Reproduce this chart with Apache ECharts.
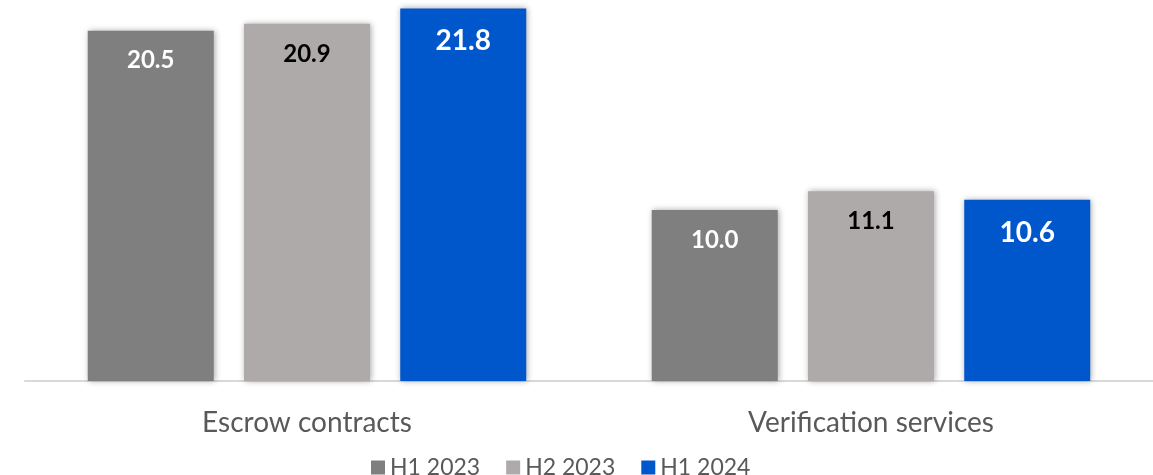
<!DOCTYPE html>
<html>
<head>
<meta charset="utf-8">
<script src="https://cdn.jsdelivr.net/npm/echarts@6/dist/echarts.min.js"></script>
<style>
  html, body { margin: 0; padding: 0; background: #fff; }
  #chart { width: 1153px; height: 475px; }
</style>
</head>
<body>
<div id="chart"></div>
<script>
// Segment revenue by half-year
const categories = ['Escrow contracts', 'Verification services'];
const seriesNames = ['H1 2023', 'H2 2023', 'H1 2024'];
const h1_2023 = [20.5, 10.0];
const h2_2023 = [20.9, 11.1];
const h1_2024 = [21.8, 10.6];

const FONT = 'Lato, "Open Sans", sans-serif';
const colors = ['#7f7f7f', '#aeaaaa', '#0057cc'];
const labelColors = ['#ffffff', '#000000', '#ffffff'];
const labelSizes = [24, 24, 28];
const labelDistances = [18, 18, 19];
const values = [h1_2023, h2_2023, h1_2024];

const chart = echarts.init(document.getElementById('chart'));

chart.setOption({
  animation: false,
  textStyle: { fontFamily: FONT },
  grid: { left: 25, right: 0, top: 5, bottom: 94 },
  legend: {
    data: seriesNames,
    top: 451,
    left: 366,
    icon: 'rect',
    itemWidth: 14,
    itemHeight: 14,
    itemGap: 26,
    textStyle: { fontFamily: FONT, fontSize: 23, color: '#595959' }
  },
  xAxis: {
    type: 'category',
    data: categories,
    axisTick: { show: false },
    axisLine: { lineStyle: { color: '#d9d9d9', width: 2 } },
    axisLabel: { fontFamily: FONT, fontSize: 28, color: '#595959', margin: 28 }
  },
  yAxis: {
    type: 'value',
    min: 0,
    max: 22,
    show: false,
    splitLine: { show: false }
  },
  series: seriesNames.map((name, i) => ({
    name: name,
    type: 'bar',
    data: values[i],
    barWidth: 126,
    barGap: '24%',
    itemStyle: {
      color: colors[i],
      shadowColor: 'rgba(0,0,0,0.35)',
      shadowBlur: 6,
      shadowOffsetX: 1,
      shadowOffsetY: 0
    },
    label: {
      show: true,
      position: 'insideTop',
      distance: labelDistances[i],
      formatter: p => p.value.toFixed(1),
      fontFamily: FONT,
      fontWeight: 'bold',
      fontSize: labelSizes[i],
      color: labelColors[i]
    }
  }))
});
</script>
</body>
</html>
